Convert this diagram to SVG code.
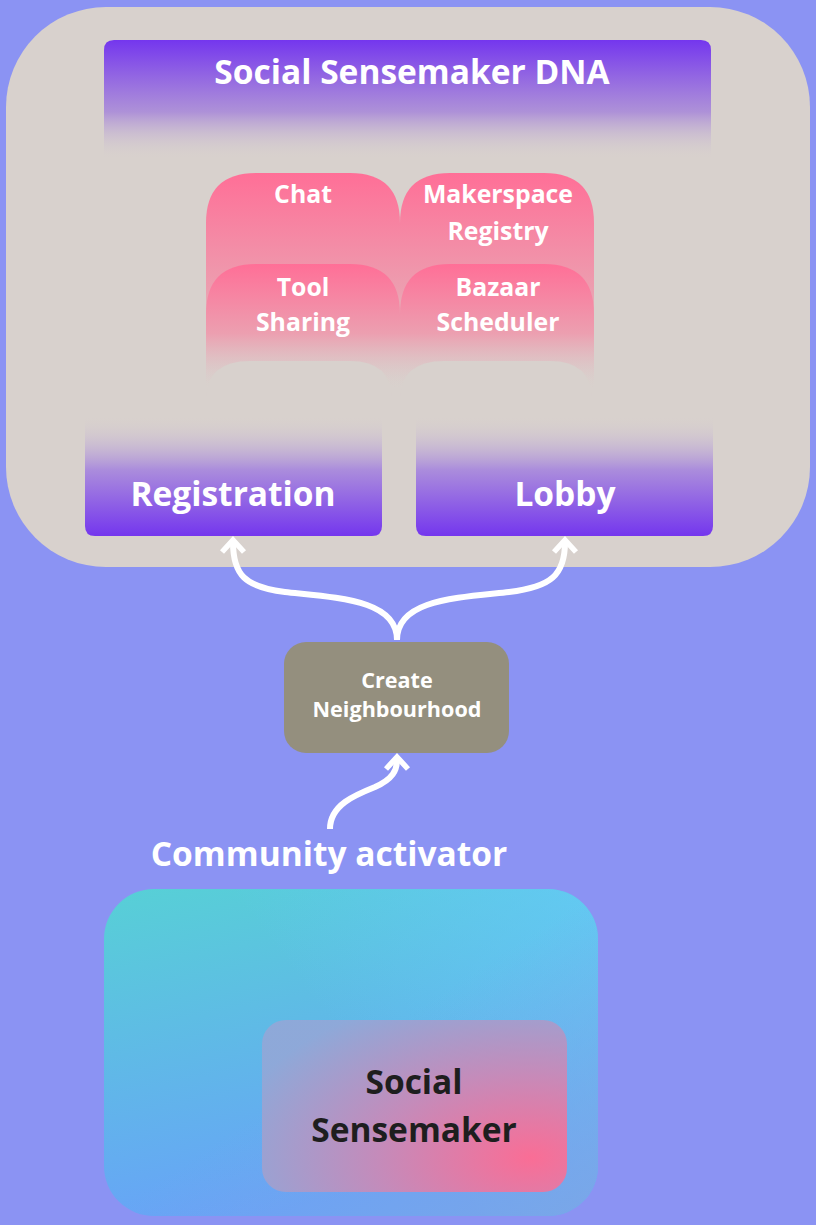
<svg xmlns="http://www.w3.org/2000/svg" width="816" height="1225" viewBox="0 0 816 1225">
<defs>
<linearGradient id="purpleDown" x1="0" y1="0" x2="0" y2="1">
<stop offset="0" stop-color="#7436ee"/>
<stop offset="0.6" stop-color="#a98ad9" stop-opacity="0.9"/>
<stop offset="1" stop-color="#d9d2ce" stop-opacity="0"/>
</linearGradient>
<linearGradient id="purpleUp" x1="0" y1="1" x2="0" y2="0">
<stop offset="0" stop-color="#7436ee"/>
<stop offset="0.55" stop-color="#ab8ddc"/>
<stop offset="1" stop-color="#d9d2ce" stop-opacity="0"/>
</linearGradient>
<linearGradient id="pink" x1="0" y1="0" x2="0" y2="1">
<stop offset="0" stop-color="#ff6f97"/>
<stop offset="0.55" stop-color="#ec9fb0"/>
<stop offset="1" stop-color="#d9d2ce" stop-opacity="0"/>
</linearGradient>
<linearGradient id="teal" x1="0" y1="0" x2="0.3" y2="1">
<stop offset="0" stop-color="#57d0d6"/>
<stop offset="1" stop-color="#68a2f8"/>
</linearGradient>
<linearGradient id="tealR" x1="1" y1="0" x2="0.4" y2="0.3">
<stop offset="0" stop-color="#66ccfa" stop-opacity="0.7"/>
<stop offset="1" stop-color="#66ccfa" stop-opacity="0"/>
</linearGradient>
<linearGradient id="tealBR" x1="0.5" y1="0.5" x2="1" y2="1">
<stop offset="0" stop-color="#7ca6e6" stop-opacity="0"/>
<stop offset="1" stop-color="#7ca6e6" stop-opacity="0.9"/>
</linearGradient>
<radialGradient id="sensemaker" cx="0.88" cy="0.8" r="1" gradientUnits="objectBoundingBox">
<stop offset="0" stop-color="#ff6b92"/>
<stop offset="0.5" stop-color="#c88ab8"/>
<stop offset="1" stop-color="#90a8d8"/>
</radialGradient>
</defs>
<style>
.t{font-family:"Open Sans","Noto Sans","Liberation Sans",sans-serif;font-weight:700;fill:#ffffff;text-anchor:middle}
.dark{fill:#1e1e1e}
.conn{fill:none;stroke:#ffffff;stroke-width:6;stroke-linecap:butt}
.head{fill:none;stroke:#ffffff;stroke-width:5.5;stroke-linecap:butt;stroke-linejoin:miter}
</style>
<rect x="0" y="0" width="816" height="1225" fill="#8b93f3"/>

<g id="container">
<rect x="6" y="7" width="804" height="560" rx="100" fill="#d8d1cd"/>
</g>

<g id="dna">
<path d="M114,40 H701 Q711,40 711,50 V160 H104 V50 Q104,40 114,40 Z" fill="url(#purpleDown)"/>
<text class="t" x="412" y="84" font-size="33.5">Social Sensemaker DNA</text>
</g>

<g id="chat">
<path d="M256,173 H350 Q400,173 400,223 V390 H206 V223 Q206,173 256,173 Z" fill="url(#pink)"/>
<text class="t" x="303" y="203" font-size="24.8">Chat</text>
</g>
<g id="makerspace">
<path d="M450,173 H544 Q594,173 594,223 V390 H400 V223 Q400,173 450,173 Z" fill="url(#pink)"/>
<text class="t" x="498" y="203" font-size="24.8">Makerspace</text>
<text class="t" x="498" y="240" font-size="24.8">Registry</text>
</g>
<g id="tool">
<path d="M256,264 H350 Q400,264 400,314 V390 H206 V314 Q206,264 256,264 Z" fill="url(#pink)"/>
<text class="t" x="303" y="296" font-size="24.8">Tool</text>
<text class="t" x="303" y="331" font-size="24.8">Sharing</text>
</g>
<g id="bazaar">
<path d="M450,264 H544 Q594,264 594,314 V390 H400 V314 Q400,264 450,264 Z" fill="url(#pink)"/>
<text class="t" x="498" y="296" font-size="24.8">Bazaar</text>
<text class="t" x="498" y="331" font-size="24.8">Scheduler</text>
</g>
<g id="fadetabs">
<path d="M250,361 H350 Q392,361 392,400 V410 H206 V400 Q206,361 250,361 Z" fill="#d8d1cd"/>
<path d="M444,361 H550 Q592,361 592,400 V410 H400 V400 Q400,361 444,361 Z" fill="#d8d1cd"/>
</g>

<g id="registration">
<path d="M85,415 H382 V526 Q382,536 372,536 H95 Q85,536 85,526 Z" fill="url(#purpleUp)"/>
<text class="t" x="233" y="506" font-size="33.5">Registration</text>
</g>
<g id="lobby">
<path d="M416,415 H713 V526 Q713,536 703,536 H426 Q416,536 416,526 Z" fill="url(#purpleUp)"/>
<text class="t" x="565" y="506" font-size="33.5">Lobby</text>
</g>

<g id="neighbourhood">
<rect x="284" y="642" width="225" height="111" rx="22" fill="#948f7e"/>
<text class="t" x="397" y="688" font-size="21.6">Create</text>
<text class="t" x="397" y="717" font-size="21.6">Neighbourhood</text>
</g>

<g id="activator">
<text class="t" x="329" y="866" font-size="33.5">Community activator</text>
</g>

<g id="outer-app">
<rect x="104" y="889" width="494" height="327" rx="50" fill="url(#teal)"/>
<rect x="104" y="889" width="494" height="327" rx="50" fill="url(#tealR)"/>
<rect x="104" y="889" width="494" height="327" rx="50" fill="url(#tealBR)"/>
</g>
<g id="social-sensemaker">
<rect x="262" y="1020" width="305" height="172" rx="24" fill="url(#sensemaker)" opacity="0.96"/>
<text class="t dark" x="414" y="1094" font-size="33.5">Social</text>
<text class="t dark" x="414" y="1142" font-size="33.5">Sensemaker</text>
</g>

<g id="connectors">
<path class="conn" d="M397,640 C397,600 340,598 285,592 C245,587 233,575 233,542"/>
<path class="head" d="M222,552 L233,540 L244,552"/>
<path class="conn" d="M397,640 C397,600 454,598 509,592 C551,587 565,575 565,542"/>
<path class="head" d="M554,552 L565,540 L576,552"/>
<path class="conn" d="M330,829 C330,805 355,795 375,787 C393,779 397,770 397,760"/>
<path class="head" d="M386,769 L397,757 L408,769"/>
</g>
</svg>
